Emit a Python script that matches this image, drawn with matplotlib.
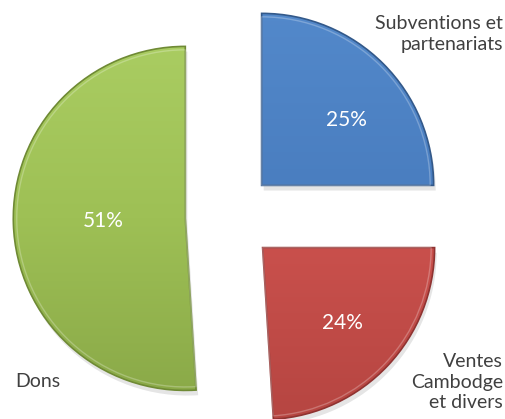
import matplotlib
matplotlib.use("Agg")
import matplotlib.pyplot as plt
import numpy as np
from matplotlib.colors import LinearSegmentedColormap
from matplotlib.patches import Wedge

plt.rcParams['font.family'] = ['Lato', 'DejaVu Sans']

# data (counter-clockwise from 12 o'clock)
labels = ['Dons', 'Ventes\nCambodge\net divers', 'Subventions et\npartenariats']
values = [51, 24, 25]
colors = ['#9ec055', '#c9504c', '#4a7ec0']
light = ['#aacd62', '#d45a56', '#5389cb']
dark = ['#8aa948', '#b54541', '#3f6eaa']
edge = ['#6f8a35', '#8f3331', '#33598a']

W, H = 505, 419
R = 172.0  # pie radius in px
cx, cy = 230, 217  # pie centre in px (y from top)

fig = plt.figure(figsize=(W / 100, H / 100), dpi=100)
ax = fig.add_axes([0, 0, 1, 1])

wedges, texts, autotexts = ax.pie(
    values, startangle=90, counterclock=True, colors=colors,
    explode=[0.26] * 3, autopct='%1.0f%%', pctdistance=0.64,
    textprops=dict(color='white', fontsize=15),
    wedgeprops=dict(linewidth=0))
for t in texts:
    t.set_visible(False)

ax.set_xlim(-cx / R, (W - cx) / R)
ax.set_ylim(-(H - cy) / R, cy / R)
ax.set_aspect('auto')
ax.axis('off')

# shadow + gradient shading
for i, w in enumerate(wedges):
    ax.add_patch(Wedge((w.center[0] + 0.012, w.center[1] - 0.03), w.r,
                       w.theta1, w.theta2, facecolor='black', alpha=0.10,
                       linewidth=0, zorder=0))
    cmap = LinearSegmentedColormap.from_list('g%d' % i, [light[i], colors[i], dark[i]])
    grad = np.linspace(0, 1, 256).reshape(-1, 1)
    x0, y0 = w.center
    im = ax.imshow(grad, cmap=cmap, aspect='auto', zorder=1,
                   extent=(x0 - 1.05, x0 + 1.05, y0 - 1.05, y0 + 1.05),
                   origin='upper', interpolation='bicubic')
    im.set_clip_path(w)
    ax.add_patch(Wedge(w.center, w.r, w.theta1, w.theta2, facecolor='none',
                       edgecolor=edge[i], linewidth=1.2, zorder=2))
    ax.add_patch(Wedge(w.center, w.r - 0.02, w.theta1, w.theta2, facecolor='none',
                       edgecolor='white', linewidth=1.0, alpha=0.25, zorder=2))

# percentage labels nudged to match the original layout
t = autotexts[0]
px, py = t.get_position()
c = wedges[0].center
t.set_position((c[0] + (px - c[0]) * 0.75, c[1] + (py - c[1]) * 0.75))
px, py = autotexts[2].get_position()
autotexts[2].set_position((px + 0.04, py - 0.07))
for t in autotexts:
    t.set_zorder(5)

lab = dict(color='#404040', fontsize=14, linespacing=1.25)
fig.text(503 / W, 1 - 34 / H, labels[2], ha='right', va='center', **lab)
fig.text(503 / W, 1 - 382 / H, labels[1], ha='right', va='center', **lab)
fig.text(15 / W, 1 - 381 / H, labels[0], ha='left', va='center', **lab)

fig.savefig('out.png', dpi=100)
